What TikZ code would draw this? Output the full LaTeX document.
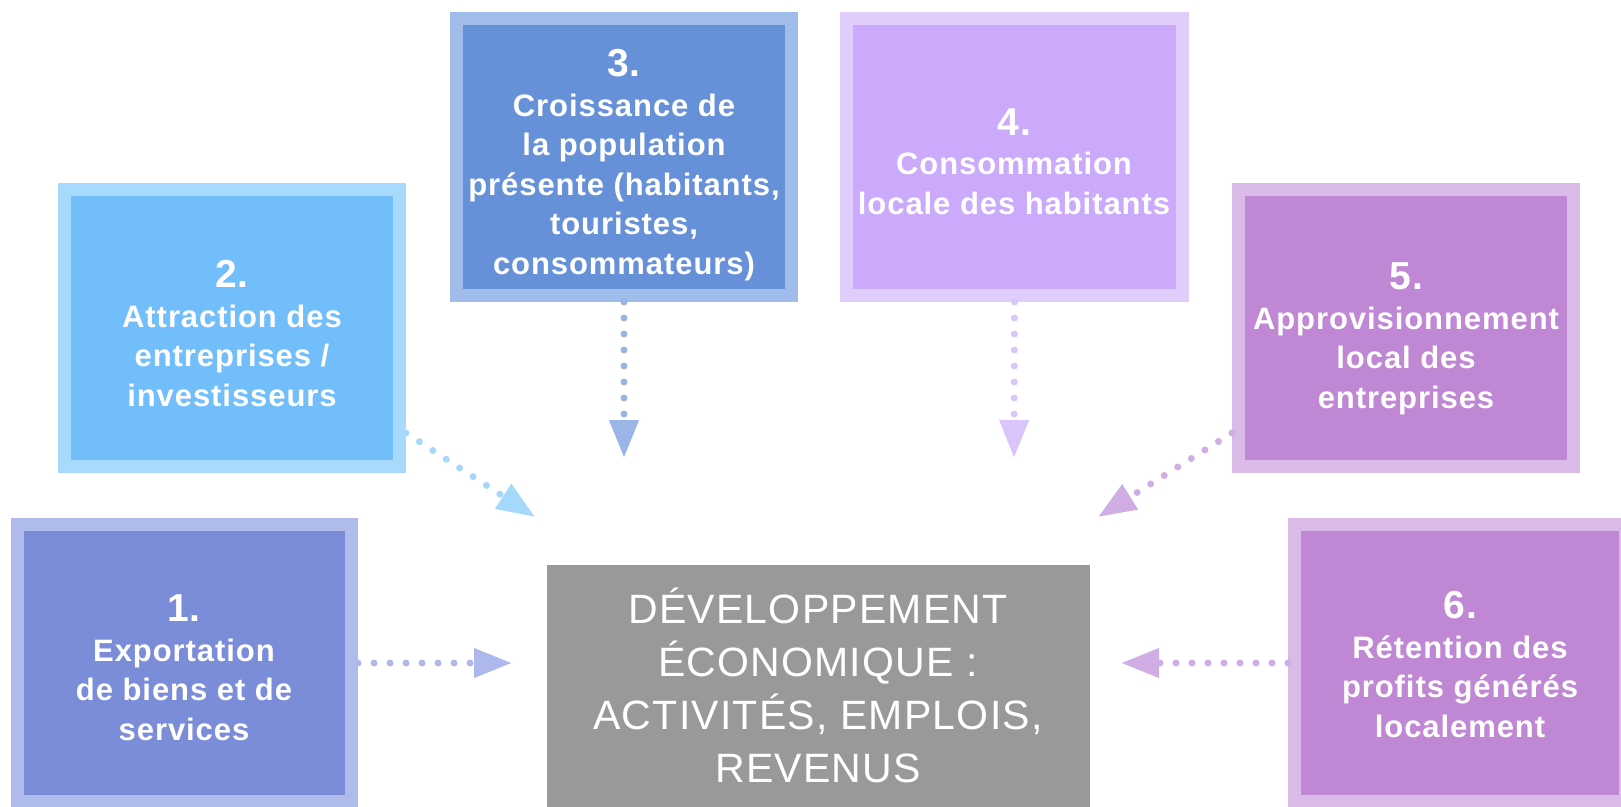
\documentclass[tikz,border=0pt]{standalone}
\usepackage{fontspec}
\setmainfont{Liberation Sans}
\newfontfamily\boxfont[LetterSpace=3]{Liberation Sans}
\usetikzlibrary{arrows.meta,calc}
\definecolor{inA}{HTML}{7B8CD8}\definecolor{outA}{HTML}{AFBCEB}
\definecolor{inB}{HTML}{72BEFB}\definecolor{outB}{HTML}{A8DAFD}
\definecolor{inC}{HTML}{6690D8}\definecolor{outC}{HTML}{A0BCEA}
\definecolor{inD}{HTML}{CBA9FB}\definecolor{outD}{HTML}{E1CDFC}
\definecolor{inE}{HTML}{BF87D4}\definecolor{outE}{HTML}{DABBE8}
\definecolor{grayC}{HTML}{9A999A}
\definecolor{arA}{HTML}{ADB9EA}\definecolor{arB}{HTML}{A5D8FB}
\definecolor{arC}{HTML}{9BB5E6}\definecolor{arD}{HTML}{D9C5FB}
\definecolor{arE}{HTML}{D0AEE5}
\newcommand\numline[1]{{\fontsize{39}{39.5}\selectfont #1}}
\begin{document}
\begin{tikzpicture}[x=1pt,y=-1pt,
  box/.style 2 args={draw=#1, fill=#2, line width=13pt, inner sep=0pt,
    minimum width=335pt, minimum height=277pt},
  boxtext/.style={anchor=base, align=center, text=white, inner sep=0pt,
    font=\boxfont\bfseries\fontsize{31}{39.5}\selectfont},
  link/.style={draw=#1, line width=7pt, line cap=round,
    dash pattern=on 0pt off 16pt,
    -{Triangle[length=38pt,width=28pt,fill=#1]}}
]
\useasboundingbox (0,0) rectangle (1621,806);
\clip (0,0) rectangle (1621,806);

% boxes
\node[box={outA}{inA}, minimum width=334pt] (b1) at (184.5,663) {};
\node[box={outB}{inB}] (b2) at (232,328) {};
\node[box={outC}{inC}] (b3) at (624,157) {};
\node[box={outD}{inD}, minimum width=336pt] (b4) at (1014.5,157) {};
\node[box={outE}{inE}] (b5) at (1406,328) {};
\node[box={outE}{inE}, minimum width=331pt] (b6) at (1460,663) {};
\node[fill=grayC, inner sep=0pt, minimum width=543pt, minimum height=265pt] (c) at (818.5,697.5) {};

% texts (anchor = baseline of the last line)
\node[boxtext] (t1) at (184,740) {\numline{1.}\\Exportation\\de biens et de\\services};
\node[boxtext] (t2) at (232,406) {\numline{2.}\\Attraction des\\entreprises /\\investisseurs};
\node[boxtext] (t3) at (624,274) {\numline{3.}\\Croissance de\\la population\\présente (habitants,\\touristes,\\consommateurs)};
\node[boxtext] (t4) at (1014,214) {\numline{4.}\\Consommation\\locale des habitants};
\node[boxtext] (t5) at (1406,408) {\numline{5.}\\Approvisionnement\\local des\\entreprises};
\node[boxtext] (t6) at (1460,737) {\numline{6.}\\Rétention des\\profits générés\\localement};
\node[anchor=base, align=center, text=white, inner sep=0pt,
  font=\boxfont\fontsize{41}{53}\selectfont] (tc) at (818,782)
  {DÉVELOPPEMENT\\ÉCONOMIQUE :\\ACTIVITÉS, EMPLOIS,\\REVENUS};

% arrow tips and starts
\coordinate (tip1) at (512,663);
\coordinate (tip2) at (535,517);
\coordinate (tip3) at (624,458);
\coordinate (tip4) at (1014,458);
\coordinate (tip5) at (1098,517);
\coordinate (tip6) at (1121,663);
\coordinate (s2) at ($(b2.south east)+(0,-40)$);
\coordinate (s5) at ($(b5.south west)+(0,-40)$);

\draw[link=arA] (b1.east) -- (tip1);
\draw[link=arB] (s2) -- (tip2);
\draw[link=arC] (b3.south) -- (tip3);
\draw[link=arD] (b4.south) -- (tip4);
\draw[link=arE] (s5) -- (tip5);
\draw[link=arE] (b6.west) -- (tip6);
\end{tikzpicture}
\end{document}
